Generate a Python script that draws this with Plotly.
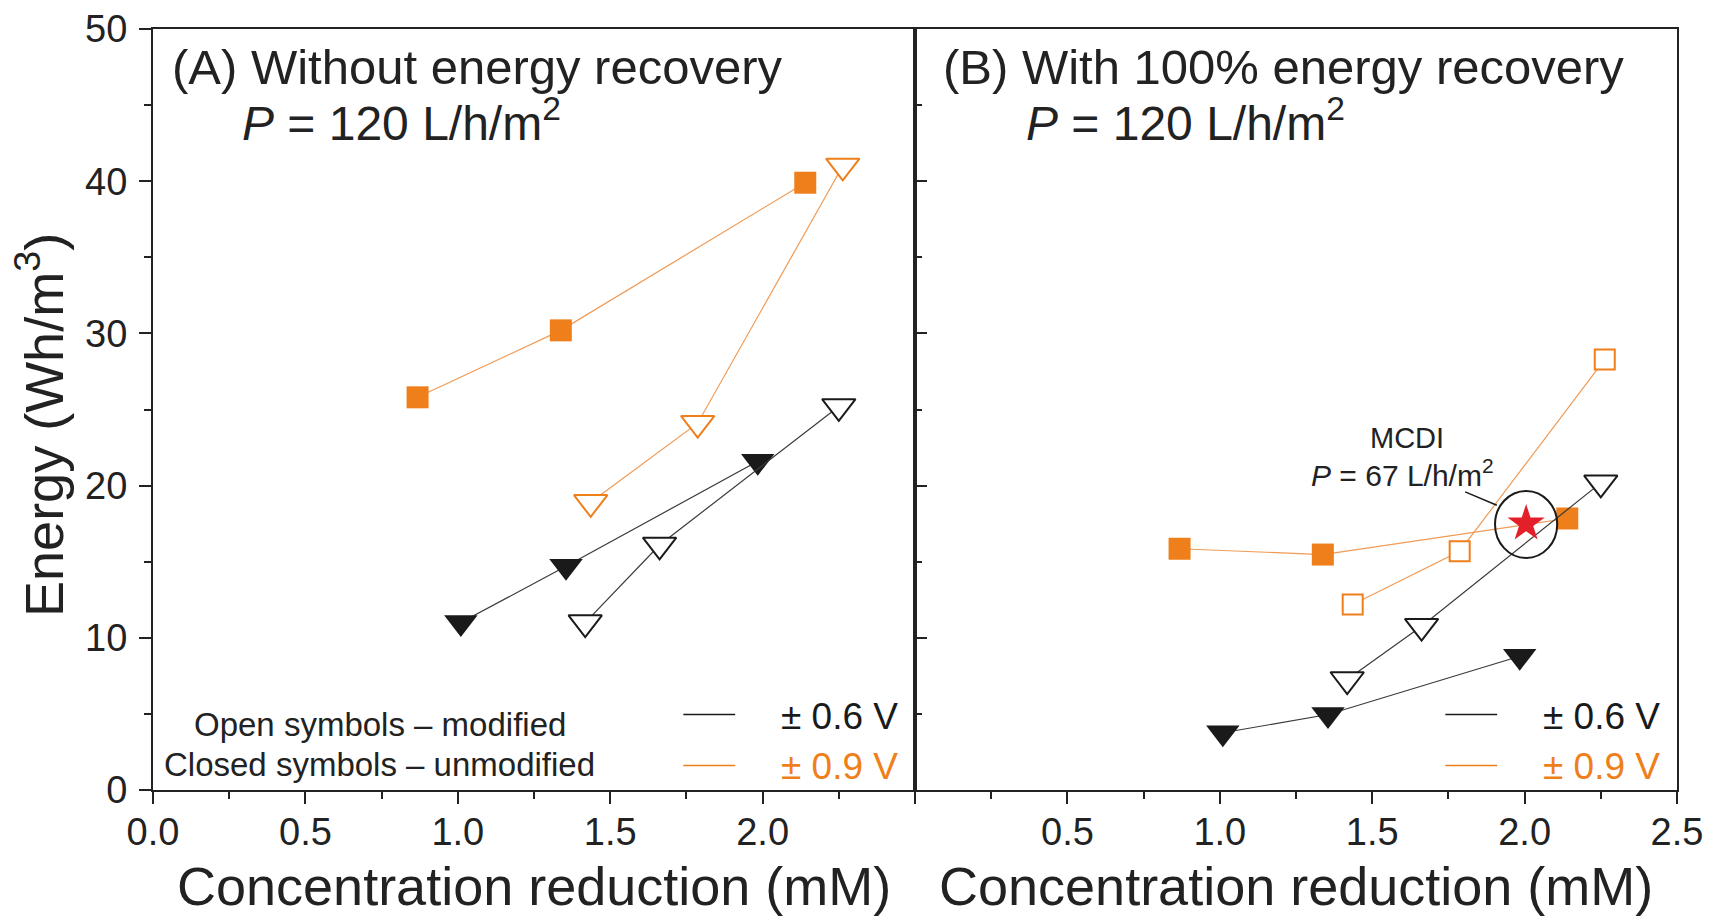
import plotly.graph_objects as go

# ---------------- data ----------------
# concentration reduction (mM); same experiments in both panels
x_unmod_09 = [0.868, 1.338, 2.140]   # closed squares, ±0.9 V
x_mod_09 = [1.436, 1.787, 2.263]     # open symbols, ±0.9 V
x_unmod_06 = [1.010, 1.355, 1.984]   # closed triangles, ±0.6 V
x_mod_06 = [1.418, 1.662, 2.250]     # open triangles, ±0.6 V

# Panel A: without energy recovery (Wh/m3)
eA_unmod_09 = [25.8, 30.2, 39.9]
eA_mod_09 = [18.9, 24.1, 41.0]
eA_unmod_06 = [11.0, 14.7, 21.6]
eA_mod_06 = [11.0, 16.1, 25.2]

# Panel B: with 100% energy recovery (Wh/m3)
eB_unmod_09 = [15.85, 15.47, 17.84]
eB_mod_09 = [12.19, 15.69, 28.29]
eB_unmod_06 = [3.76, 4.96, 8.79]
eB_mod_06 = [7.26, 10.76, 20.18]

# MCDI reference point
mcdi_x = [2.005]
mcdi_y = [17.5]

x_tickvals = [0, 0.5, 1.0, 1.5, 2.0, 2.5]
xA_ticktext = ["0.0", "0.5", "1.0", "1.5", "2.0", ""]
xB_ticktext = ["", "0.5", "1.0", "1.5", "2.0", "2.5"]
y_tickvals = [0, 10, 20, 30, 40, 50]

# ---------------- style ----------------
ORANGE = "#EF7F1A"
ORANGE_LINE = "#F09A55"
BLACK = "#1a1a1a"
LINE_BLACK = "#3a3a3a"
RED = "#E3202A"
AX = "#222222"
FONT = "Liberation Sans, Arial, sans-serif"

fig = go.Figure()


def add_series(x, y, xa, ya, symbol, filled, color, lcolor, size):
    if filled:
        marker = dict(symbol=symbol, size=size, color=color, line=dict(width=0))
    else:
        marker = dict(symbol=symbol, size=size, color="white", line=dict(width=2, color=color))
    fig.add_trace(go.Scatter(
        x=x, y=y, xaxis=xa, yaxis=ya, mode="lines+markers",
        line=dict(color=lcolor, width=1.2), marker=marker,
        showlegend=False, hoverinfo="x+y", cliponaxis=False))


TRI = 29
SQ = 22
# Panel A
add_series(x_unmod_09, eA_unmod_09, "x", "y", "square", True, ORANGE, ORANGE_LINE, SQ)
add_series(x_mod_09, eA_mod_09, "x", "y", "triangle-down", False, ORANGE, ORANGE_LINE, TRI)
add_series(x_unmod_06, eA_unmod_06, "x", "y", "triangle-down", True, BLACK, LINE_BLACK, TRI)
add_series(x_mod_06, eA_mod_06, "x", "y", "triangle-down", False, BLACK, LINE_BLACK, TRI)
# Panel B
add_series(x_unmod_09, eB_unmod_09, "x2", "y2", "square", True, ORANGE, ORANGE_LINE, SQ)
add_series(x_mod_09, eB_mod_09, "x2", "y2", "square", False, ORANGE, ORANGE_LINE, SQ - 2)
add_series(x_unmod_06, eB_unmod_06, "x2", "y2", "triangle-down", True, BLACK, LINE_BLACK, TRI)
add_series(x_mod_06, eB_mod_06, "x2", "y2", "triangle-down", False, BLACK, LINE_BLACK, TRI)
fig.add_trace(go.Scatter(x=mcdi_x, y=mcdi_y, xaxis="x2", yaxis="y2", mode="markers",
                         marker=dict(symbol="star", size=28, color=RED, line=dict(width=0)),
                         showlegend=False, cliponaxis=False))

common_x = dict(range=[0, 2.5], showline=True, linecolor=AX, linewidth=2, mirror=True,
                ticks="outside", ticklen=12, tickwidth=2, tickcolor=AX,
                tickvals=x_tickvals, tickfont=dict(family=FONT, size=38, color=AX),
                ticklabelstandoff=-5, automargin=False,
                minor=dict(ticks="outside", ticklen=7, tickwidth=1.5, tickcolor=AX,
                           dtick=0.25, tick0=0, showgrid=False),
                showgrid=False, zeroline=False, fixedrange=True)
common_y = dict(range=[0, 50], showline=True, linecolor=AX, linewidth=2, mirror=True,
                tickvals=y_tickvals, ticklen=12, tickwidth=2, tickcolor=AX,
                tickfont=dict(family=FONT, size=38, color=AX), automargin=False,
                showgrid=False, zeroline=False, fixedrange=True)

# the page body keeps its default 8px margin, so the figure is 8px smaller
fig.update_layout(
    width=1703, height=912,
    margin=dict(l=145, r=34, t=21, b=130, autoexpand=False),
    paper_bgcolor="white", plot_bgcolor="white",
    font=dict(family=FONT, color=AX),
    xaxis=dict(domain=[0, 0.5], anchor="y", ticktext=xA_ticktext, **common_x),
    xaxis2=dict(domain=[0.5, 1.0], anchor="y2", ticktext=xB_ticktext, **common_x),
    yaxis=dict(domain=[0, 1], anchor="x", ticks="outside", ticklabelstandoff=4,
               minor=dict(ticks="outside", ticklen=7, tickwidth=1.5, tickcolor=AX,
                          dtick=5, tick0=0, showgrid=False),
               **common_y),
    yaxis2=dict(domain=[0, 1], anchor="x2", ticks="inside", showticklabels=False,
                minor=dict(ticks="inside", ticklen=7, tickwidth=1.5, tickcolor=AX,
                           dtick=5, tick0=0, showgrid=False),
                **common_y),
)

ann = []


def txt(x, y, text, size, xref, yref, xanchor="left", color=AX, angle=0):
    ann.append(dict(x=x, y=y, xref=xref, yref=yref, text=text, showarrow=False,
                    xanchor=xanchor, yanchor="middle", textangle=angle,
                    font=dict(family=FONT, size=size, color=color)))


# panel headings
txt(0.055, 47.5, "(A) Without energy recovery", 49, "x", "y")
txt(0.287, 44.0, "<i>P</i> = 120 L/h/m<sup>2</sup>", 48, "x", "y")
txt(0.085, 47.5, "(B) With 100% energy recovery", 49, "x2", "y2")
txt(0.358, 44.0, "<i>P</i> = 120 L/h/m<sup>2</sup>", 48, "x2", "y2")

# axis titles
txt(0.25, -0.1265, "Concentration reduction (mM)", 54, "paper", "paper", "center")
txt(0.75, -0.1265, "Concentration reduction (mM)", 54, "paper", "paper", "center")
txt(-0.074, 0.480, "Energy (Wh/m<sup>3</sup>)", 54, "paper", "paper", "center", angle=-90)

# symbol notes (panel A)
txt(0.744, 4.30, "Open symbols \u2013 modified", 33, "x", "y", "center")
txt(0.744, 1.68, "Closed symbols \u2013 unmodified", 33, "x", "y", "center")

# voltage keys
shapes = []
for xr, yr in (("x", "y"), ("x2", "y2")):
    shapes.append(dict(type="line", xref=xr, yref=yr, x0=1.74, x1=1.91, y0=4.96, y1=4.96,
                       line=dict(color=BLACK, width=1.5)))
    shapes.append(dict(type="line", xref=xr, yref=yr, x0=1.74, x1=1.91, y0=1.61, y1=1.61,
                       line=dict(color=ORANGE, width=1.5)))
    txt(2.45, 4.83, "\u00b1 0.6 V", 37, xr, yr, "right", BLACK)
    txt(2.45, 1.54, "\u00b1 0.9 V", 37, xr, yr, "right", ORANGE)

# MCDI callout
txt(1.615, 23.11, "MCDI", 29, "x2", "y2", "center")
txt(1.600, 20.8, "<i>P</i> = 67 L/h/m<sup>2</sup>", 30, "x2", "y2", "center")
shapes.append(dict(type="circle", xref="x2", yref="y2",
                   x0=mcdi_x[0] - 0.102, x1=mcdi_x[0] + 0.102,
                   y0=mcdi_y[0] - 2.25, y1=mcdi_y[0] + 2.15,
                   line=dict(color=BLACK, width=2)))
shapes.append(dict(type="line", xref="x2", yref="y2", x0=1.805, y0=19.59, x1=1.909, y1=18.71,
                   line=dict(color=BLACK, width=1.5)))

fig.update_layout(annotations=ann, shapes=shapes)
fig.write_html("out.html")
